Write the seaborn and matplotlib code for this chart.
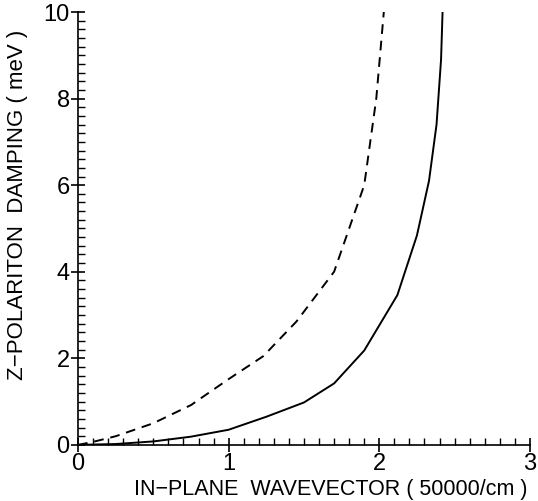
import pandas as pd
import matplotlib
matplotlib.use("Agg")
import matplotlib.pyplot as plt
import seaborn as sns
from matplotlib.ticker import MultipleLocator

# Data
solid_x = [0, 0.25, 0.5, 0.75, 1.0, 1.25, 1.5, 1.7, 1.9, 2.12, 2.25, 2.33, 2.38, 2.41, 2.42]
solid_y = [0, 0.02, 0.08, 0.19, 0.35, 0.65, 0.98, 1.42, 2.18, 3.46, 4.84, 6.1, 7.4, 8.9, 10]
dashed_x = [0, 0.1, 0.25, 0.5, 0.75, 1.0, 1.23, 1.45, 1.7, 1.9, 1.98, 2.03]
dashed_y = [0, 0.07, 0.2, 0.5, 0.92, 1.52, 2.05, 2.85, 4.0, 6.0, 8.0, 10]

sns.set_style("ticks")
plt.rcParams['font.family'] = ['Liberation Sans', 'DejaVu Sans']

solid = pd.DataFrame({"k": solid_x, "damping": solid_y})
dashed = pd.DataFrame({"k": dashed_x, "damping": dashed_y})

fig = plt.figure(figsize=(5.38, 5.01), dpi=100)
ax = fig.add_axes([0.145, 0.112, 0.84, 0.864])

sns.lineplot(data=solid, x="k", y="damping", sort=False, ax=ax,
             color="black", linewidth=1.4, estimator=None)
sns.lineplot(data=dashed, x="k", y="damping", sort=False, ax=ax,
             color="black", linewidth=1.4, estimator=None, linestyle=(0, (5, 3.5)))

ax.set_xlim(0, 3)
ax.set_ylim(0, 10)
ax.xaxis.set_major_locator(MultipleLocator(1))
ax.xaxis.set_minor_locator(MultipleLocator(0.1))
ax.yaxis.set_major_locator(MultipleLocator(2))
ax.yaxis.set_minor_locator(MultipleLocator(0.2))
ax.tick_params(which="major", direction="inout", length=10, width=1.2,
               labelsize=17, pad=1, color="black", labelcolor="black")
ax.tick_params(which="minor", direction="in", length=5, width=1.0, color="black")

sns.despine(ax=ax)
for s in ["left", "bottom"]:
    ax.spines[s].set_linewidth(1.2)
    ax.spines[s].set_color("black")

ax.set_xlabel("IN\u2212PLANE  WAVEVECTOR ( 50000/cm )", fontsize=15.5, color="black")
ax.set_ylabel("Z\u2212POLARITON  DAMPING ( meV )", fontsize=16, color="black")
ax.xaxis.set_label_coords(0.56, -0.078)
ax.yaxis.set_label_coords(-0.11, 0.555)

fig.savefig("out.png", dpi=100)
